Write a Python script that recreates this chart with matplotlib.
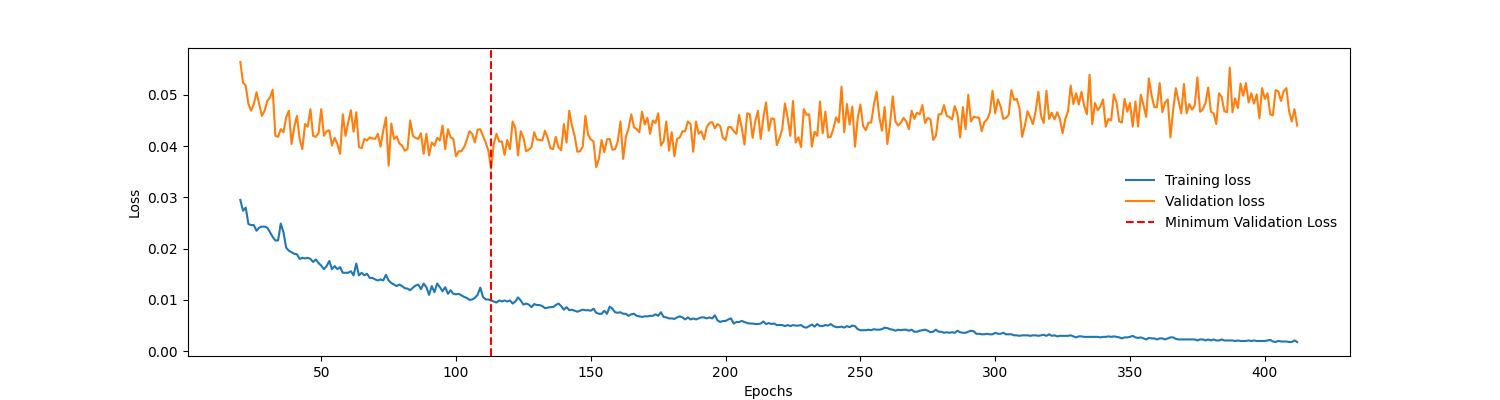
import numpy as np
import matplotlib
matplotlib.use("Agg")
import matplotlib.pyplot as plt

# epochs shown in the plot (first epochs skipped)
epochs = list(range(20, 413))

train_loss = [
    0.0295, 0.0274, 0.0280, 0.0248, 0.0246, 0.0246, 0.0235, 0.0241, 0.0243, 0.0243,
    0.0241, 0.0232, 0.0223, 0.0216, 0.0216, 0.0249, 0.0232, 0.0202, 0.0196, 0.0193,
    0.0190, 0.0189, 0.0180, 0.0182, 0.0181, 0.0182, 0.0180, 0.0174, 0.0179, 0.0172,
    0.0167, 0.0160, 0.0166, 0.0176, 0.0160, 0.0166, 0.0160, 0.0164, 0.0153, 0.0153,
    0.0153, 0.0156, 0.0148, 0.0171, 0.0148, 0.0153, 0.0148, 0.0151, 0.0143, 0.0143,
    0.0140, 0.0138, 0.0140, 0.0138, 0.0149, 0.0138, 0.0133, 0.0130, 0.0127, 0.0130,
    0.0127, 0.0123, 0.0122, 0.0119, 0.0124, 0.0128, 0.0130, 0.0121, 0.0132, 0.0125,
    0.0110, 0.0127, 0.0115, 0.0132, 0.0125, 0.0117, 0.0125, 0.0112, 0.0119, 0.0112,
    0.0111, 0.0112, 0.0109, 0.0106, 0.0104, 0.0100, 0.0101, 0.0104, 0.0110, 0.0124,
    0.0106, 0.0101, 0.0101, 0.0099, 0.0097, 0.0095, 0.0099, 0.0097, 0.0099, 0.0097,
    0.0099, 0.0093, 0.0097, 0.0105, 0.0099, 0.0091, 0.0093, 0.0091, 0.0086, 0.0092,
    0.0090, 0.0090, 0.0088, 0.0084, 0.0085, 0.0086, 0.0086, 0.0090, 0.0093, 0.0088,
    0.0081, 0.0086, 0.0080, 0.0081, 0.0079, 0.0077, 0.0079, 0.0081, 0.0080, 0.0080,
    0.0079, 0.0083, 0.0075, 0.0073, 0.0073, 0.0079, 0.0073, 0.0087, 0.0083, 0.0076,
    0.0075, 0.0076, 0.0073, 0.0073, 0.0069, 0.0072, 0.0073, 0.0069, 0.0068, 0.0067,
    0.0068, 0.0068, 0.0069, 0.0069, 0.0072, 0.0069, 0.0076, 0.0067, 0.0066, 0.0064,
    0.0064, 0.0063, 0.0066, 0.0068, 0.0066, 0.0062, 0.0066, 0.0062, 0.0064, 0.0062,
    0.0064, 0.0066, 0.0066, 0.0064, 0.0066, 0.0064, 0.0070, 0.0060, 0.0057, 0.0059,
    0.0059, 0.0062, 0.0064, 0.0054, 0.0057, 0.0057, 0.0059, 0.0057, 0.0055, 0.0054,
    0.0054, 0.0053, 0.0053, 0.0054, 0.0058, 0.0053, 0.0055, 0.0053, 0.0054, 0.0051,
    0.0051, 0.0051, 0.0049, 0.0051, 0.0049, 0.0051, 0.0050, 0.0050, 0.0051, 0.0047,
    0.0046, 0.0049, 0.0052, 0.0048, 0.0053, 0.0049, 0.0049, 0.0051, 0.0050, 0.0053,
    0.0049, 0.0047, 0.0047, 0.0048, 0.0046, 0.0049, 0.0047, 0.0050, 0.0049, 0.0043,
    0.0041, 0.0041, 0.0041, 0.0042, 0.0041, 0.0043, 0.0042, 0.0042, 0.0043, 0.0046,
    0.0045, 0.0043, 0.0042, 0.0040, 0.0042, 0.0041, 0.0042, 0.0042, 0.0040, 0.0042,
    0.0038, 0.0038, 0.0040, 0.0041, 0.0042, 0.0040, 0.0037, 0.0038, 0.0042, 0.0038,
    0.0038, 0.0036, 0.0037, 0.0036, 0.0037, 0.0036, 0.0040, 0.0037, 0.0036, 0.0036,
    0.0038, 0.0040, 0.0039, 0.0034, 0.0034, 0.0033, 0.0033, 0.0034, 0.0033, 0.0033,
    0.0036, 0.0034, 0.0034, 0.0036, 0.0033, 0.0033, 0.0033, 0.0031, 0.0031, 0.0030,
    0.0031, 0.0031, 0.0031, 0.0030, 0.0031, 0.0031, 0.0030, 0.0031, 0.0032, 0.0030,
    0.0033, 0.0030, 0.0031, 0.0029, 0.0030, 0.0030, 0.0030, 0.0030, 0.0031, 0.0029,
    0.0027, 0.0029, 0.0029, 0.0028, 0.0028, 0.0028, 0.0028, 0.0028, 0.0028, 0.0027,
    0.0028, 0.0028, 0.0029, 0.0028, 0.0029, 0.0028, 0.0027, 0.0025, 0.0027, 0.0027,
    0.0028, 0.0030, 0.0027, 0.0026, 0.0027, 0.0025, 0.0023, 0.0026, 0.0025, 0.0025,
    0.0023, 0.0025, 0.0025, 0.0023, 0.0025, 0.0027, 0.0027, 0.0024, 0.0023, 0.0023,
    0.0023, 0.0023, 0.0023, 0.0023, 0.0023, 0.0021, 0.0023, 0.0023, 0.0021, 0.0023,
    0.0021, 0.0023, 0.0021, 0.0021, 0.0023, 0.0021, 0.0021, 0.0021, 0.0021, 0.0020,
    0.0021, 0.0020, 0.0020, 0.0020, 0.0021, 0.0020, 0.0021, 0.0020, 0.0020, 0.0020,
    0.0020, 0.0021, 0.0022, 0.0019, 0.0018, 0.0020, 0.0019, 0.0019, 0.0019, 0.0018,
    0.0018, 0.0021, 0.0018,
]

val_loss = [
    0.0564, 0.0524, 0.0518, 0.0482, 0.0469, 0.0482, 0.0505, 0.0482, 0.0459, 0.0469,
    0.0488, 0.0495, 0.0510, 0.0420, 0.0418, 0.0433, 0.0427, 0.0456, 0.0469, 0.0404,
    0.0437, 0.0459, 0.0414, 0.0394, 0.0443, 0.0438, 0.0472, 0.0420, 0.0418, 0.0425,
    0.0472, 0.0420, 0.0429, 0.0431, 0.0401, 0.0416, 0.0404, 0.0385, 0.0462, 0.0420,
    0.0446, 0.0470, 0.0428, 0.0466, 0.0398, 0.0396, 0.0414, 0.0411, 0.0417, 0.0415,
    0.0414, 0.0424, 0.0399, 0.0430, 0.0456, 0.0362, 0.0444, 0.0414, 0.0419, 0.0405,
    0.0401, 0.0391, 0.0394, 0.0450, 0.0420, 0.0416, 0.0414, 0.0425, 0.0385, 0.0424,
    0.0382, 0.0407, 0.0401, 0.0416, 0.0411, 0.0440, 0.0394, 0.0433, 0.0417, 0.0414,
    0.0380, 0.0390, 0.0390, 0.0398, 0.0412, 0.0429, 0.0424, 0.0407, 0.0432, 0.0433,
    0.0420, 0.0407, 0.0391, 0.0356, 0.0404, 0.0424, 0.0409, 0.0409, 0.0383, 0.0412,
    0.0394, 0.0448, 0.0435, 0.0382, 0.0429, 0.0417, 0.0390, 0.0393, 0.0398, 0.0427,
    0.0413, 0.0412, 0.0411, 0.0430, 0.0416, 0.0396, 0.0394, 0.0418, 0.0398, 0.0392,
    0.0443, 0.0407, 0.0469, 0.0440, 0.0420, 0.0389, 0.0390, 0.0399, 0.0459, 0.0422,
    0.0413, 0.0409, 0.0359, 0.0375, 0.0412, 0.0388, 0.0413, 0.0414, 0.0393, 0.0394,
    0.0409, 0.0448, 0.0375, 0.0418, 0.0435, 0.0462, 0.0437, 0.0433, 0.0427, 0.0467,
    0.0442, 0.0455, 0.0424, 0.0450, 0.0445, 0.0464, 0.0401, 0.0409, 0.0448, 0.0391,
    0.0427, 0.0380, 0.0414, 0.0417, 0.0429, 0.0429, 0.0448, 0.0443, 0.0389, 0.0448,
    0.0424, 0.0429, 0.0413, 0.0437, 0.0445, 0.0447, 0.0435, 0.0443, 0.0439, 0.0416,
    0.0412, 0.0437, 0.0437, 0.0429, 0.0424, 0.0461, 0.0435, 0.0403, 0.0464, 0.0462,
    0.0416, 0.0448, 0.0469, 0.0414, 0.0456, 0.0485, 0.0430, 0.0454, 0.0453, 0.0402,
    0.0416, 0.0433, 0.0483, 0.0456, 0.0420, 0.0488, 0.0407, 0.0417, 0.0398, 0.0472,
    0.0461, 0.0462, 0.0399, 0.0428, 0.0420, 0.0487, 0.0425, 0.0467, 0.0417, 0.0418,
    0.0435, 0.0456, 0.0446, 0.0516, 0.0427, 0.0482, 0.0442, 0.0477, 0.0399, 0.0455,
    0.0481, 0.0439, 0.0431, 0.0446, 0.0446, 0.0481, 0.0506, 0.0457, 0.0430, 0.0476,
    0.0404, 0.0444, 0.0497, 0.0448, 0.0440, 0.0446, 0.0455, 0.0448, 0.0433, 0.0469,
    0.0453, 0.0465, 0.0462, 0.0480, 0.0445, 0.0455, 0.0452, 0.0412, 0.0420, 0.0462,
    0.0462, 0.0480, 0.0459, 0.0457, 0.0452, 0.0478, 0.0462, 0.0417, 0.0476, 0.0433,
    0.0500, 0.0448, 0.0457, 0.0456, 0.0455, 0.0429, 0.0447, 0.0452, 0.0465, 0.0508,
    0.0464, 0.0491, 0.0477, 0.0453, 0.0455, 0.0461, 0.0509, 0.0490, 0.0492, 0.0474,
    0.0418, 0.0440, 0.0468, 0.0456, 0.0443, 0.0468, 0.0506, 0.0459, 0.0445, 0.0508,
    0.0453, 0.0465, 0.0452, 0.0466, 0.0453, 0.0425, 0.0453, 0.0468, 0.0518, 0.0482,
    0.0503, 0.0481, 0.0506, 0.0479, 0.0462, 0.0539, 0.0443, 0.0484, 0.0470, 0.0477,
    0.0491, 0.0438, 0.0453, 0.0450, 0.0501, 0.0485, 0.0448, 0.0446, 0.0492, 0.0467,
    0.0484, 0.0438, 0.0487, 0.0438, 0.0500, 0.0480, 0.0457, 0.0532, 0.0499, 0.0476,
    0.0476, 0.0523, 0.0466, 0.0485, 0.0491, 0.0417, 0.0470, 0.0513, 0.0488, 0.0464,
    0.0521, 0.0464, 0.0482, 0.0471, 0.0479, 0.0534, 0.0467, 0.0472, 0.0484, 0.0514,
    0.0467, 0.0464, 0.0443, 0.0503, 0.0496, 0.0468, 0.0466, 0.0553, 0.0466, 0.0493,
    0.0474, 0.0522, 0.0498, 0.0523, 0.0485, 0.0503, 0.0483, 0.0501, 0.0454, 0.0513,
    0.0492, 0.0503, 0.0462, 0.0460, 0.0509, 0.0507, 0.0488, 0.0507, 0.0513, 0.0468,
    0.0448, 0.0472, 0.0440,
]

best_epoch = epochs[int(np.argmin(val_loss))]

fig, ax = plt.subplots(figsize=(15, 4), dpi=100)
ax.plot(epochs, train_loss, label="Training loss")
ax.plot(epochs, val_loss, label="Validation loss")
ax.axvline(best_epoch, color="r", linestyle="--", label="Minimum Validation Loss")
ax.set_xlabel("Epochs")
ax.set_ylabel("Loss")
ax.legend(loc="center right", frameon=False)

fig.savefig("out.png")
